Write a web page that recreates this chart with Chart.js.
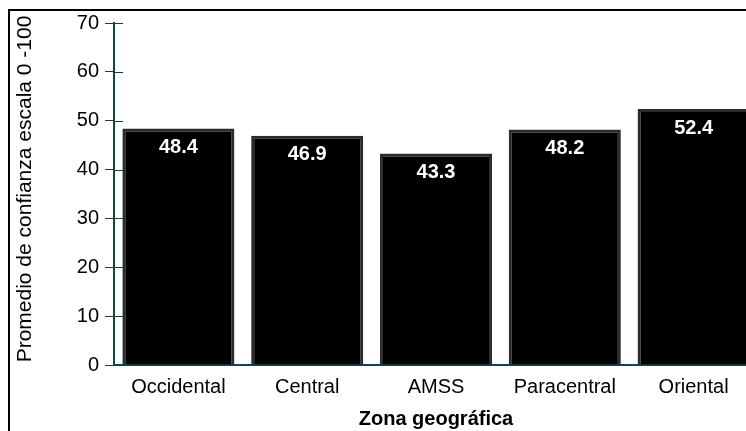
<!DOCTYPE html>
<html>
<head>
<meta charset="utf-8">
<script src="https://cdn.jsdelivr.net/npm/chart.js@4/dist/chart.umd.min.js"></script>
<style>
  html, body { margin: 0; padding: 0; background: #fff; }
  body { width: 746px; height: 431px; overflow: hidden; position: relative; }
  #frame { position: absolute; left: 8px; top: 9px; width: 900px; height: 600px;
           border-left: 2px solid #000; border-top: 2px solid #000; }
  #wrap { position: absolute; left: 0; top: 0; width: 780px; height: 431px; }
</style>
</head>
<body>
<div id="frame"></div>
<div id="wrap"><canvas id="chart"></canvas></div>
<script>
// Average trust score (0-100 scale) by geographic zone
const zones = ['Occidental', 'Central', 'AMSS', 'Paracentral', 'Oriental'];
const promedio = [48.4, 46.9, 43.3, 48.2, 52.4];
const yTicks = [0, 10, 20, 30, 40, 50, 60, 70];
const yTitle = 'Promedio de confianza escala 0 -100';

const FONT = '"Liberation Sans", Arial, sans-serif';
const AXIS_COLOR = '#0b4a4a';

// Value labels inside the top of each bar
const valueLabels = {
  id: 'valueLabels',
  afterDatasetsDraw(chart) {
    const ctx = chart.ctx;
    const meta = chart.getDatasetMeta(0);
    ctx.save();
    ctx.fillStyle = '#ffffff';
    ctx.font = 'bold 20px ' + FONT;
    ctx.textAlign = 'center';
    ctx.textBaseline = 'middle';
    meta.data.forEach((bar, i) => {
      ctx.fillText(promedio[i].toFixed(1), bar.x, bar.y + 19);
    });
    ctx.restore();
  }
};

// Tick marks on the value axis cross the axis line into the plot
const crossTicks = {
  id: 'crossTicks',
  beforeDatasetsDraw(chart) {
    const ctx = chart.ctx;
    const y = chart.scales.y;
    const x0 = chart.chartArea.left;
    ctx.save();
    ctx.strokeStyle = '#333';
    ctx.lineWidth = 1;
    yTicks.forEach(v => {
      const py = Math.round(y.getPixelForValue(v)) + 0.5;
      ctx.beginPath();
      ctx.moveTo(x0, py);
      ctx.lineTo(x0 + 9, py);
      ctx.stroke();
    });
    ctx.restore();
  }
};

// Rotated value-axis title, running up the left edge of the frame
const valueAxisTitle = {
  id: 'valueAxisTitle',
  afterDraw(chart) {
    const ctx = chart.ctx;
    ctx.save();
    ctx.translate(25, 189);
    ctx.rotate(-Math.PI / 2);
    ctx.fillStyle = '#000';
    ctx.font = '21px ' + FONT;
    ctx.textAlign = 'center';
    ctx.textBaseline = 'middle';
    ctx.fillText(yTitle, 0, 0);
    ctx.restore();
  }
};

new Chart(document.getElementById('chart'), {
  type: 'bar',
  data: {
    labels: zones,
    datasets: [{
      data: promedio,
      backgroundColor: '#000000',
      borderColor: '#2b2b2b',
      borderWidth: 3,
      barPercentage: 0.87,
      categoryPercentage: 1.0
    }]
  },
  options: {
    responsive: true,
    maintainAspectRatio: false,
    animation: false,
    layout: { padding: { left: 0, right: 22, top: 23, bottom: 0 } },
    plugins: { legend: { display: false }, tooltip: { enabled: false } },
    scales: {
      x: {
        grid: { display: false, drawTicks: false },
        border: { display: true, color: AXIS_COLOR, width: 2 },
        ticks: { color: '#000', font: { family: FONT, size: 20 }, padding: 10, maxRotation: 0 },
        title: { display: true, text: 'Zona geográfica', color: '#000',
                 font: { family: FONT, size: 20, weight: 'bold' }, padding: { top: 0, bottom: 0 } },
        afterFit(scale) { scale.height = 66; }
      },
      y: {
        min: 0, max: 70,
        afterBuildTicks(scale) { scale.ticks = yTicks.map(v => ({ value: v })); },
        grid: { display: true, drawOnChartArea: false, drawTicks: true, tickLength: 9, color: '#333' },
        border: { display: true, color: AXIS_COLOR, width: 2 },
        ticks: { color: '#000', font: { family: FONT, size: 20 }, padding: 6 },
        title: { display: false },
        afterFit(scale) { scale.width = 114; }
      }
    }
  },
  plugins: [crossTicks, valueLabels, valueAxisTitle]
});
</script>
</body>
</html>
